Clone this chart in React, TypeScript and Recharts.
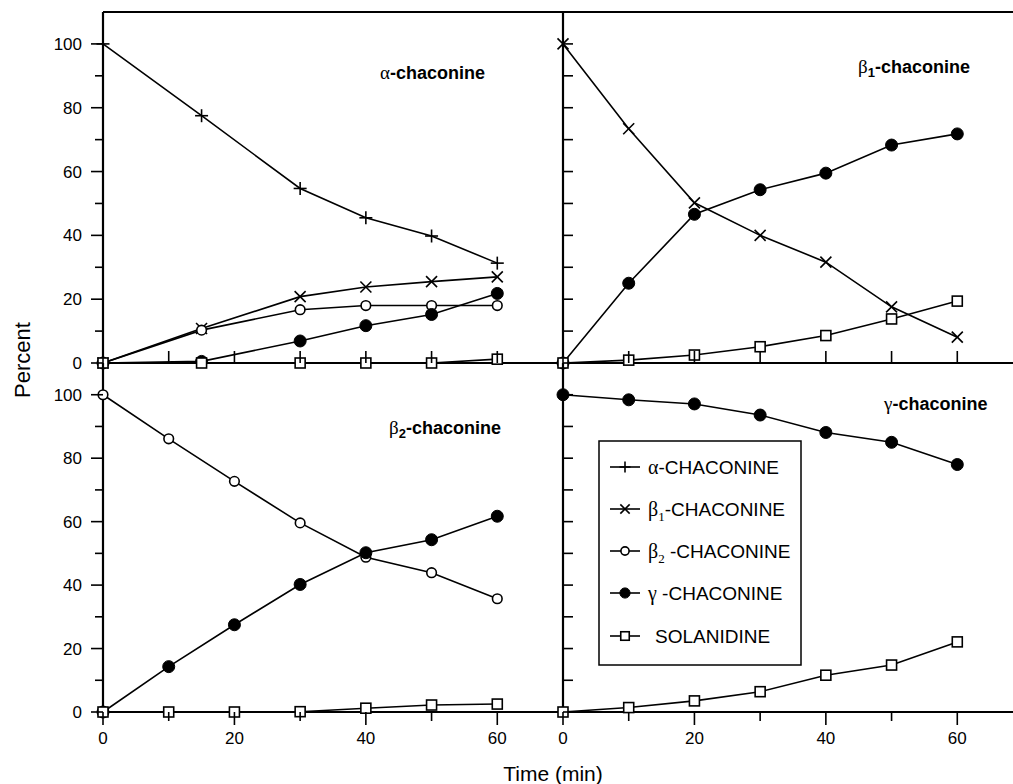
import React from 'react';
import { LineChart, Line, XAxis, YAxis, ReferenceLine } from 'recharts';

// ---------- data ----------
const timesAlphaPanel = [0, 15, 30, 40, 50, 60];
const times = [0, 10, 20, 30, 40, 50, 60];

// alpha-chaconine panel
const a_alpha = [100, 77.5, 54.7, 45.5, 39.8, 31.3];
const a_beta1 = [0, 10.8, 20.8, 23.8, 25.5, 27.0];
const a_beta2 = [0, 10.3, 16.7, 18.0, 18.0, 18.0];
const a_gamma = [0, 0.5, 6.9, 11.7, 15.2, 21.8];
const a_solan = [0, 0, 0, 0, 0, 1.2];

// beta1-chaconine panel
const b1_beta1 = [100, 73.4, 50.2, 40.0, 31.6, 17.6, 8.1];
const b1_gamma = [0, 25.0, 46.6, 54.3, 59.5, 68.3, 71.8];
const b1_solan = [0, 0.9, 2.5, 5.1, 8.6, 13.8, 19.4];

// beta2-chaconine panel
const b2_beta2 = [100, 86.1, 72.7, 59.6, 48.8, 43.9, 35.7];
const b2_gamma = [0, 14.3, 27.5, 40.2, 50.2, 54.3, 61.7];
const b2_solan = [0, 0, 0, 0.1, 1.2, 2.2, 2.5];

// gamma-chaconine panel
const g_gamma = [100, 98.4, 97.1, 93.6, 88.1, 85.0, 78.0];
const g_solan = [0, 1.4, 3.5, 6.4, 11.6, 14.8, 22.1];

const xTicks = [0, 10, 20, 30, 40, 50, 60];
const xLabelTicks = [0, 20, 40, 60];
const yTicks = [0, 10, 20, 30, 40, 50, 60, 70, 80, 90, 100];
const yLabelTicks = [0, 20, 40, 60, 80, 100];
const xDomain = [0, 70];
const yDomain = [0, 110];

type Shape = 'plus' | 'cross' | 'open' | 'filled' | 'square';
const seriesKeys = ['alpha', 'beta1', 'beta2', 'gamma', 'solanidine'];
const seriesShapes: Shape[] = ['plus', 'cross', 'open', 'filled', 'square'];

const build = (ts: number[], cols: Record<string, number[]>) =>
  ts.map((t, i) => {
    const row: Record<string, number> = { t };
    Object.keys(cols).forEach((k) => (row[k] = cols[k][i]));
    return row;
  });

const dataAlpha = build(timesAlphaPanel, { alpha: a_alpha, beta1: a_beta1, beta2: a_beta2, gamma: a_gamma, solanidine: a_solan });
const dataBeta1 = build(times, { beta1: b1_beta1, gamma: b1_gamma, solanidine: b1_solan });
const dataBeta2 = build(times, { beta2: b2_beta2, gamma: b2_gamma, solanidine: b2_solan });
const dataGamma = build(times, { gamma: g_gamma, solanidine: g_solan });

// ---------- layout ----------
const W = 1013;
const H = 784;
const WIDE = 1040;
const LEFT_X = 103;
const MID_X = 563;
const RIGHT_X = 1023;
const TOP_Y = 12;
const MID_Y = 363;
const BOT_Y = 712;
const AX = 2; // thin reserved size for inner axes
const FONT = "'Liberation Sans', Arial, Helvetica, sans-serif";
const SERIF = "'Liberation Serif', 'Times New Roman', serif";

function Marker({ cx, cy, shape, k = 1 }: { cx: number; cy: number; shape: Shape; k?: number }) {
  const sw = 1.6;
  if (shape === 'plus') {
    const r = 6.5 * k;
    return (
      <g>
        <line x1={cx - r} x2={cx + r} y1={cy} y2={cy} stroke="#000" strokeWidth={sw} />
        <line x1={cx} x2={cx} y1={cy - r} y2={cy + r} stroke="#000" strokeWidth={sw} />
      </g>
    );
  }
  if (shape === 'cross') {
    const r = 5.5 * k;
    return (
      <g>
        <line x1={cx - r} x2={cx + r} y1={cy - r} y2={cy + r} stroke="#000" strokeWidth={sw} />
        <line x1={cx - r} x2={cx + r} y1={cy + r} y2={cy - r} stroke="#000" strokeWidth={sw} />
      </g>
    );
  }
  if (shape === 'open') return <circle cx={cx} cy={cy} r={4.8 * k} fill="#fff" stroke="#000" strokeWidth={sw} />;
  if (shape === 'filled') return <circle cx={cx} cy={cy} r={6 * k} fill="#000" stroke="#000" strokeWidth={1} />;
  const s = 5 * k;
  return <rect x={cx - s} y={cy - s} width={2 * s} height={2 * s} fill="#fff" stroke="#000" strokeWidth={sw} />;
}

const makeDot = (shape: Shape, key: string) => (props: any) => {
  const { cx, cy, index } = props;
  if (cx == null || cy == null) return <g key={`${key}-${index}`} />;
  return (
    <g key={`${key}-${index}`}>
      <Marker cx={cx} cy={cy} shape={shape} />
    </g>
  );
};

// left panels: ticks outward with labels
const LeftYTick = (props: any) => {
  const { x, y, payload } = props;
  const v = payload.value;
  const major = yLabelTicks.includes(v);
  return (
    <g>
      <line x1={x - (major ? 12 : 8)} x2={x} y1={y} y2={y} stroke="#000" strokeWidth={1.6} />
      {major && (
        <text x={x - 21} y={y} dy={6} textAnchor="end" fontSize={17} fontFamily={FONT} fill="#000">
          {v}
        </text>
      )}
    </g>
  );
};

// right panels: ticks pointing into the plot, no labels
const InnerYTick = (props: any) => {
  const { x, y } = props;
  return <line x1={x} x2={x + 10} y1={y} y2={y} stroke="#000" strokeWidth={1.6} />;
};

// bottom panels: ticks outward with labels
const BottomXTick = (props: any) => {
  const { x, y, payload } = props;
  const v = payload.value;
  const major = xLabelTicks.includes(v);
  return (
    <g>
      <line x1={x} x2={x} y1={y} y2={y + (major ? 13 : 9)} stroke="#000" strokeWidth={1.6} />
      {major && (
        <text x={x} y={y + 32} textAnchor="middle" fontSize={17} fontFamily={FONT} fill="#000">
          {v}
        </text>
      )}
    </g>
  );
};

// top panels: ticks pointing up into the plot, no labels
const InnerXTick = (props: any) => {
  const { x, y } = props;
  return <line x1={x} x2={x} y1={y} y2={y - 12} stroke="#000" strokeWidth={1.6} />;
};

const axisLine = { stroke: '#000', strokeWidth: 2.2 };

function Panel({ data, keys, pos }: { data: any[]; keys: string[]; pos: 'tl' | 'tr' | 'bl' | 'br' }) {
  const isLeft = pos === 'tl' || pos === 'bl';
  const isTop = pos === 'tl' || pos === 'tr';
  const width = isLeft ? W : WIDE;
  const xH = isTop ? AX : H - BOT_Y;
  const yW = isLeft ? LEFT_X : AX;
  const margin = {
    top: isTop ? TOP_Y : MID_Y,
    bottom: isTop ? H - MID_Y - xH : 0,
    left: isLeft ? 0 : MID_X - yW,
    right: isLeft ? W - MID_X : WIDE - RIGHT_X,
  };
  return (
    <div style={{ position: 'absolute', left: 0, top: 0 }}>
      <LineChart width={width} height={H} data={data} margin={margin}>
        <XAxis
          dataKey="t"
          type="number"
          domain={xDomain}
          ticks={xTicks}
          height={xH}
          tickSize={0}
          tickMargin={0}
          tickLine={false}
          tick={isTop ? InnerXTick : BottomXTick}
          axisLine={axisLine}
          interval={0}
        />
        <YAxis
          type="number"
          domain={yDomain}
          ticks={yTicks}
          width={yW}
          tickSize={0}
          tickMargin={0}
          tickLine={false}
          tick={isLeft ? LeftYTick : InnerYTick}
          axisLine={axisLine}
          interval={0}
        />
        {isTop && <ReferenceLine y={110} stroke="#000" strokeWidth={2.2} />}
        {keys.map((k) => {
          const shape = seriesShapes[seriesKeys.indexOf(k)];
          return (
            <Line
              key={k}
              type="linear"
              dataKey={k}
              stroke="#000"
              strokeWidth={1.6}
              isAnimationActive={false}
              dot={makeDot(shape, `${pos}-${k}`)}
              activeDot={false}
            />
          );
        })}
      </LineChart>
    </div>
  );
}

const legendRows: { shape: Shape; greek: string; sub: string; rest: string; tx: number }[] = [
  { shape: 'plus', greek: 'α', sub: '', rest: '-CHACONINE', tx: 648 },
  { shape: 'cross', greek: 'β', sub: '1', rest: '-CHACONINE', tx: 648 },
  { shape: 'open', greek: 'β', sub: '2', rest: ' -CHACONINE', tx: 648 },
  { shape: 'filled', greek: 'γ', sub: '', rest: ' -CHACONINE', tx: 648 },
  { shape: 'square', greek: '', sub: '', rest: 'SOLANIDINE', tx: 655 },
];

function Title({ x, y, greek, sub }: { x: number; y: number; greek: string; sub?: string }) {
  return (
    <text x={x} y={y} fontSize={18} fontWeight="bold" fontFamily={FONT} fill="#000">
      <tspan fontWeight="normal" fontFamily={SERIF} fontSize={19}>{greek}</tspan>
      {sub ? (
        <>
          <tspan fontSize={13} dy={4}>{sub}</tspan>
          <tspan dy={-4}>-chaconine</tspan>
        </>
      ) : (
        <tspan>-chaconine</tspan>
      )}
    </text>
  );
}

function Overlay() {
  const rowY = [467, 509, 551, 593, 636];
  return (
    <svg width={W} height={H} style={{ position: 'absolute', left: 0, top: 0, pointerEvents: 'none' }}>
      <Title x={380} y={79} greek="α" />
      <Title x={858} y={73} greek="β" sub="1" />
      <Title x={389} y={434} greek="β" sub="2" />
      <Title x={884} y={410} greek="γ" />
      <text
        x={22}
        y={360}
        transform="rotate(-90 22 360)"
        textAnchor="middle"
        dominantBaseline="central"
        fontSize={22}
        fontFamily={FONT}
        fill="#000"
      >
        Percent
      </text>
      <text x={553} y={781} textAnchor="middle" fontSize={21} fontFamily={FONT} fill="#000">
        Time (min)
      </text>
      <rect x={599} y={441} width={202} height={224} fill="#fff" stroke="#000" strokeWidth={1.5} />
      {legendRows.map((r, i) => (
        <g key={i}>
          <line x1={610} x2={640} y1={rowY[i]} y2={rowY[i]} stroke="#000" strokeWidth={1.6} />
          <Marker cx={625} cy={rowY[i]} shape={r.shape} k={0.85} />
          <text x={r.tx} y={rowY[i] + 7} fontSize={19} fontFamily={FONT} fill="#000">
            {r.greek && <tspan fontFamily={SERIF} fontSize={20}>{r.greek}</tspan>}
            {r.sub ? (
              <>
                <tspan fontFamily={SERIF} fontSize={13} dy={5}>{r.sub}</tspan>
                <tspan dy={-5}>{r.rest}</tspan>
              </>
            ) : (
              <tspan>{r.rest}</tspan>
            )}
          </text>
        </g>
      ))}
    </svg>
  );
}

export default function App() {
  return (
    <div style={{ position: 'absolute', left: 0, top: 0, width: W, height: H, overflow: 'hidden', background: '#fff' }}>
      <Panel data={dataAlpha} keys={['alpha', 'beta1', 'beta2', 'gamma', 'solanidine']} pos="tl" />
      <Panel data={dataBeta1} keys={['beta1', 'gamma', 'solanidine']} pos="tr" />
      <Panel data={dataBeta2} keys={['beta2', 'gamma', 'solanidine']} pos="bl" />
      <Panel data={dataGamma} keys={['gamma', 'solanidine']} pos="br" />
      <Overlay />
    </div>
  );
}
